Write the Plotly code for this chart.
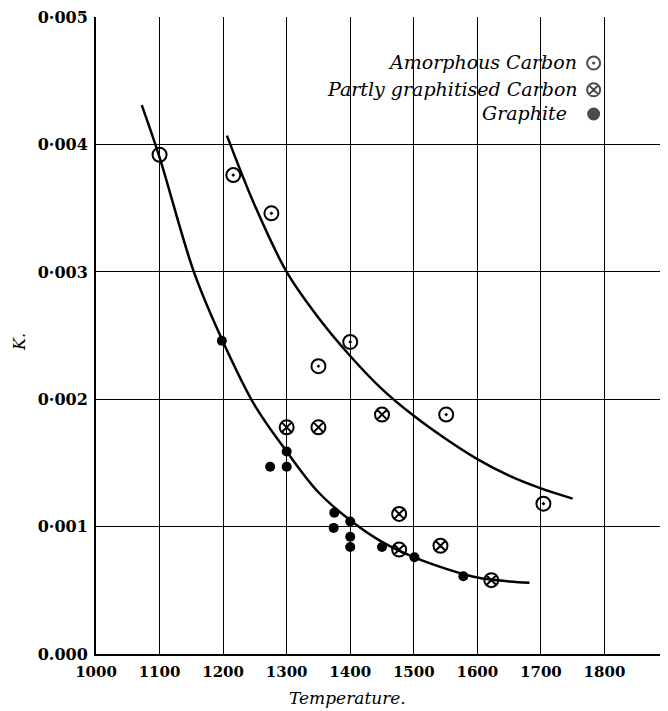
import plotly.graph_objects as go

# Data
amorphous_T = [1100, 1216, 1276, 1350, 1400, 1551, 1704]
amorphous_K = [0.00392, 0.00376, 0.00346, 0.00226, 0.00245, 0.00188, 0.00118]

partly_T = [1300, 1350, 1450, 1477, 1477, 1542, 1622]
partly_K = [0.00178, 0.00178, 0.00188, 0.00110, 0.00082, 0.00085, 0.00058]

graphite_T = [1198, 1300, 1274, 1300, 1375, 1374, 1400, 1400, 1400, 1450, 1501, 1578]
graphite_K = [0.00246, 0.00159, 0.00147, 0.00147, 0.00111, 0.00099, 0.00104, 0.00092, 0.00084, 0.00084, 0.00076, 0.00061]

# Hand-drawn curves
curve_low_T = [1072, 1100, 1154, 1200, 1250, 1300, 1350, 1400, 1450, 1500, 1550, 1600, 1650, 1682]
curve_low_K = [0.00431, 0.00390, 0.00300, 0.00245, 0.00195, 0.00159, 0.00127, 0.00105, 0.00088, 0.00076, 0.00067, 0.00060, 0.00057, 0.00056]

curve_high_T = [1206, 1250, 1300, 1350, 1400, 1450, 1500, 1550, 1600, 1650, 1700, 1750]
curve_high_K = [0.00407, 0.00352, 0.00300, 0.00264, 0.00234, 0.00208, 0.00187, 0.00169, 0.00153, 0.00140, 0.00130, 0.00122]

x_ticks = [1000, 1100, 1200, 1300, 1400, 1500, 1600, 1700, 1800]
y_ticks = [0.000, 0.001, 0.002, 0.003, 0.004, 0.005]
y_ticktext = ["0.000", "0·001", "0·002", "0·003", "0·004", "0·005"]

legend_labels = ["Amorphous Carbon", "Partly graphitised Carbon", "Graphite"]
x_title = "Temperature."
y_title = "K."

fig = go.Figure()

fig.add_trace(go.Scatter(x=curve_low_T, y=curve_low_K, mode="lines",
                         line=dict(color="black", width=2.5, shape="spline", smoothing=1),
                         showlegend=False, hoverinfo="skip"))
fig.add_trace(go.Scatter(x=curve_high_T, y=curve_high_K, mode="lines",
                         line=dict(color="black", width=2.5, shape="spline", smoothing=1),
                         showlegend=False, hoverinfo="skip"))

amorphous_symbols = ["circle-open"] + ["circle-open-dot"] * (len(amorphous_T) - 1)
fig.add_trace(go.Scatter(x=amorphous_T, y=amorphous_K, mode="markers",
                         marker=dict(symbol=amorphous_symbols, size=14, color="black",
                                     line=dict(width=2, color="black")),
                         name=legend_labels[0], showlegend=False))
fig.add_trace(go.Scatter(x=partly_T, y=partly_K, mode="markers",
                         marker=dict(symbol="circle-x-open", size=14, color="black",
                                     line=dict(width=2, color="black")),
                         name=legend_labels[1], showlegend=False))
fig.add_trace(go.Scatter(x=graphite_T, y=graphite_K, mode="markers",
                         marker=dict(symbol="circle", size=10, color="black"),
                         name=legend_labels[2], showlegend=False))

# Hand-written legend
leg_y = [0.00464, 0.00443, 0.00424]
leg_text_x = [1760, 1762, 1745]
leg_sym = ["circle-open-dot", "circle-x-open", "circle"]
leg_size = [13, 13, 11]
fig.add_trace(go.Scatter(x=[1783, 1783, 1783], y=leg_y, mode="markers",
                         marker=dict(symbol=leg_sym, size=leg_size, color="black",
                                     line=dict(width=2, color="black")),
                         showlegend=False, hoverinfo="skip"))
for lab, yy, xx in zip(legend_labels, leg_y, leg_text_x):
    fig.add_annotation(x=xx, y=yy + 0.00001, text=lab, showarrow=False, xanchor="right",
                       yanchor="middle",
                       font=dict(family="DejaVu Serif", size=19, color="black", style="italic"))

# Axis titles
fig.add_annotation(xref="paper", yref="paper", x=(347 - 96) / 572, y=-44 / 637,
                   text=x_title, showarrow=False, xanchor="center", yanchor="middle",
                   font=dict(family="DejaVu Serif", size=17, color="black", style="italic"))
fig.add_annotation(xref="paper", yref="paper", x=(19 - 96) / 572, y=(654 - 342) / 637,
                   text=y_title, showarrow=False, xanchor="center", yanchor="middle",
                   textangle=-90,
                   font=dict(family="DejaVu Serif", size=16, color="black", style="italic"))

# The page body adds an 8px offset, so the figure is 8px smaller in each direction
fig.update_layout(
    width=660, height=703,
    margin=dict(l=88, r=0, t=9, b=57, autoexpand=False),
    paper_bgcolor="white", plot_bgcolor="white",
    font=dict(family="DejaVu Serif", color="black"),
    xaxis=dict(range=[1000, 1900], tickvals=x_ticks, ticktext=[str(v) for v in x_ticks],
               showgrid=True, gridcolor="black", gridwidth=1.2,
               showline=True, linecolor="black", linewidth=2, mirror=False,
               zeroline=False, ticks="outside", ticklen=3, tickcolor="rgba(0,0,0,0)",
               automargin=False, ticklabeloverflow="allow",
               tickfont=dict(family="DejaVu Serif", size=15, color="black", weight="bold")),
    yaxis=dict(range=[0, 0.0050015], tickvals=y_ticks, ticktext=y_ticktext,
               showgrid=True, gridcolor="black", gridwidth=1.2,
               showline=True, linecolor="black", linewidth=2,
               zeroline=False, ticks="outside", ticklen=3, tickcolor="rgba(0,0,0,0)",
               automargin=False, ticklabeloverflow="allow",
               tickfont=dict(family="DejaVu Serif", size=16, color="black", weight="bold")),
)

fig.write_html("out.html")
